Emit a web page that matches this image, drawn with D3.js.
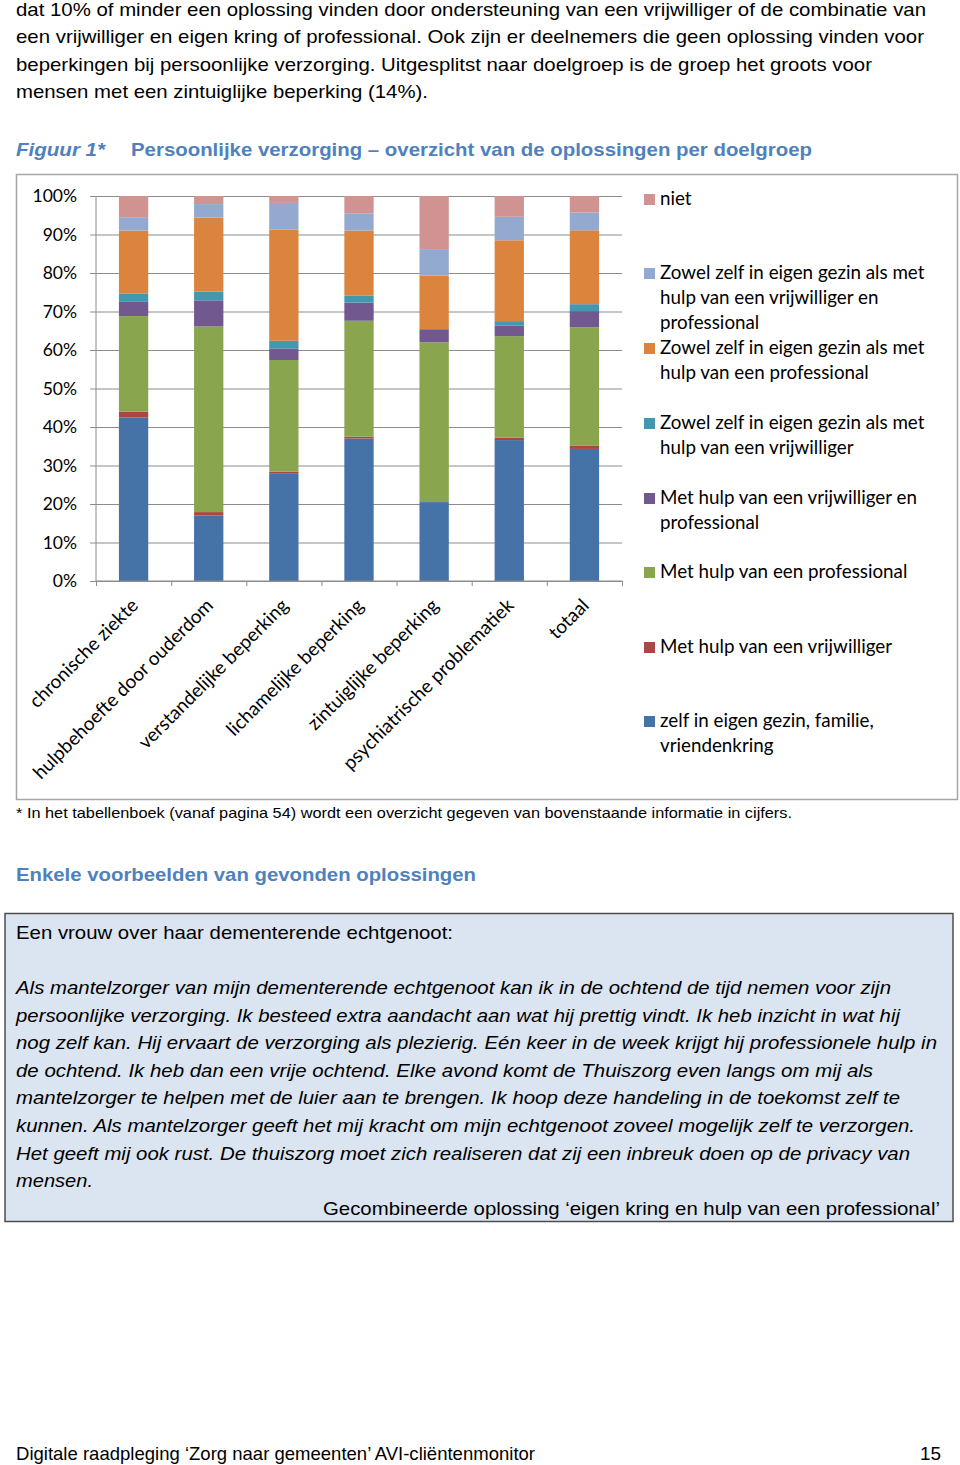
<!DOCTYPE html>
<html>
<head>
<meta charset="utf-8">
<script src="https://cdn.jsdelivr.net/npm/d3@7"></script>
<style>
  html, body { margin: 0; padding: 0; background: #fff; }
  svg { display: block; }
</style>
</head>
<body>
<svg id="page" width="960" height="1465"></svg>
<script>
// ---------- DATA ----------
const categories = ["chronische ziekte", "hulpbehoefte door ouderdom", "verstandelijke beperking",
  "lichamelijke beperking", "zintuiglijke beperking", "psychiatrische problematiek", "totaal"];

// series, bottom to top (percentages)
const zelf          = [42.5, 17.0, 28.0, 37.0, 20.5, 36.6, 34.3];
const vrijwilliger  = [ 1.5,  0.9,  0.4,  0.5,  0.0,  0.6,  0.8];
const professional  = [24.8, 48.2, 29.0, 30.1, 41.5, 26.4, 30.8];
const vrijwProf     = [ 3.7,  6.8,  3.0,  4.7,  3.4,  2.7,  4.2];
const zelfVrijw     = [ 2.2,  2.3,  2.0,  1.8,  0.0,  1.2,  1.8];
const zelfProf      = [16.3, 19.2, 28.9, 16.9, 13.9, 21.0, 19.2];
const zelfVrijwProf = [ 3.5,  3.5,  6.9,  4.5,  6.9,  6.1,  4.6];
const niet          = [ 5.5,  2.1,  1.8,  4.5, 13.8,  5.4,  4.3];

const seriesKeys = ["zelf", "vrijwilliger", "professional", "vrijwProf", "zelfVrijw", "zelfProf", "zelfVrijwProf", "niet"];
const seriesValues = [zelf, vrijwilliger, professional, vrijwProf, zelfVrijw, zelfProf, zelfVrijwProf, niet];
const seriesColors = ["#4572A7", "#AA4643", "#89A54E", "#71588F", "#4198AF", "#DB843D", "#93A9CF", "#D19392"];

const yTicks = [0, 10, 20, 30, 40, 50, 60, 70, 80, 90, 100];

// legend (top to bottom), lines per entry
const legendKeys = ["niet", "zelfVrijwProf", "zelfProf", "zelfVrijw", "vrijwProf", "professional", "vrijwilliger", "zelf"];
const legendLines = [
  ["niet"],
  ["Zowel zelf in eigen gezin als met", "hulp van een vrijwilliger en", "professional"],
  ["Zowel zelf in eigen gezin als met", "hulp van een professional"],
  ["Zowel zelf in eigen gezin als met", "hulp van een vrijwilliger"],
  ["Met hulp van een vrijwilliger en", "professional"],
  ["Met hulp van een professional"],
  ["Met hulp van een vrijwilliger"],
  ["zelf in eigen gezin, familie,", "vriendenkring"]
];
const legendTop = [199, 273, 348, 423, 498, 572, 647, 721];

// page texts
const introLines = [
  ["dat 10% of minder een oplossing vinden door ondersteuning van een vrijwilliger of de combinatie van", 910],
  ["een vrijwilliger en eigen kring of professional. Ook zijn er deelnemers die geen oplossing vinden voor", 908],
  ["beperkingen bij persoonlijke verzorging. Uitgesplitst naar doelgroep is de groep het groots voor", 856],
  ["mensen met een zintuiglijke beperking (14%).", 412]
];
const quoteLines = [
  ["Als mantelzorger van mijn dementerende echtgenoot kan ik in de ochtend de tijd nemen voor zijn", 875],
  ["persoonlijke verzorging. Ik besteed extra aandacht aan wat hij prettig vindt. Ik heb inzicht in wat hij", 884],
  ["nog zelf kan. Hij ervaart de verzorging als plezierig. Eén keer in de week krijgt hij professionele hulp in", 921],
  ["de ochtend. Ik heb dan een vrije ochtend. Elke avond komt de Thuiszorg even langs om mij als", 857],
  ["mantelzorger te helpen met de luier aan te brengen. Ik hoop deze handeling in de toekomst zelf te", 884],
  ["kunnen. Als mantelzorger geeft het mij kracht om mijn echtgenoot zoveel mogelijk zelf te verzorgen.", 899],
  ["Het geeft mij ook rust. De thuiszorg moet zich realiseren dat zij een inbreuk doen op de privacy van", 894],
  ["mensen.", 77]
];

// ---------- DRAW ----------
const svg = d3.select("#page");
const SANS = "'Liberation Sans', Arial, sans-serif";
const CHART = "Lato, Carlito, Calibri, sans-serif";
const BLUE = "#4F81BD";

function line(g, txt, x, y, len, opts = {}) {
  const t = g.append("text").attr("x", x).attr("y", y).text(txt)
    .attr("font-family", opts.family || SANS)
    .attr("font-size", opts.size || 19)
    .attr("fill", opts.fill || "#000");
  if (opts.weight) t.attr("font-weight", opts.weight);
  if (opts.style) t.attr("font-style", opts.style);
  if (opts.anchor) t.attr("text-anchor", opts.anchor);
  if (len) t.attr("textLength", len).attr("lengthAdjust", "spacingAndGlyphs");
  return t;
}

// intro paragraph
introLines.forEach((d, i) => line(svg, d[0], 16, 16 + i * 27.4, d[1]));

// figure title
line(svg, "Figuur 1*", 16, 156, 89, { fill: BLUE, weight: "bold", style: "italic" });
line(svg, "Persoonlijke verzorging – overzicht van de oplossingen per doelgroep", 131, 156, 681, { fill: BLUE, weight: "bold" });

// chart frame
svg.append("rect").attr("x", 16.5).attr("y", 174.5).attr("width", 941).attr("height", 625)
  .attr("fill", "#fff").attr("stroke", "#a6a6a6").attr("stroke-width", 1.5);

const plot = { left: 96, right: 622, top: 196, bottom: 581 };
const x = d3.scaleBand().domain(categories).range([plot.left, plot.right]).paddingInner(0.61).paddingOuter(0.305);
const y = d3.scaleLinear().domain([0, 100]).range([plot.bottom, plot.top]);

// gridlines
svg.append("g").attr("transform", `translate(${plot.left},0)`)
  .call(d3.axisLeft(y).tickValues(yTicks).tickSize(-(plot.right - plot.left)).tickFormat(""))
  .call(g => g.select(".domain").remove())
  .call(g => g.selectAll("line").attr("stroke", "#8c8c8c").attr("stroke-width", 1));

// stacked data
const table = categories.map((c, i) => {
  const row = { cat: c };
  seriesKeys.forEach((k, j) => row[k] = seriesValues[j][i]);
  return row;
});
const stack = d3.stack().keys(seriesKeys)(table);
const color = d3.scaleOrdinal().domain(seriesKeys).range(seriesColors);

svg.append("g").selectAll("g").data(stack).join("g")
  .attr("fill", d => color(d.key))
  .selectAll("rect").data(d => d).join("rect")
  .attr("x", d => x(d.data.cat))
  .attr("width", x.bandwidth())
  .attr("y", d => y(d[1]))
  .attr("height", d => y(d[0]) - y(d[1]));

// y axis
svg.append("g").attr("transform", `translate(${plot.left},0)`)
  .call(d3.axisLeft(y).tickValues(yTicks).tickSize(6).tickPadding(13).tickFormat(d => d + "%"))
  .call(g => g.select(".domain").attr("stroke", "#8c8c8c").attr("d", `M0,${plot.bottom}V${plot.top}`))
  .call(g => g.selectAll("line").attr("stroke", "#8c8c8c"))
  .call(g => g.selectAll("text").attr("font-family", CHART).attr("font-size", 17.5).attr("fill", "#000"));

// x axis (ticks between categories)
const xb = d3.scaleLinear().domain([0, categories.length]).range([plot.left, plot.right]);
svg.append("g").attr("transform", `translate(0,${plot.bottom})`)
  .call(d3.axisBottom(xb).tickValues(d3.range(0, categories.length + 1)).tickSize(5).tickFormat(""))
  .call(g => g.select(".domain").attr("stroke", "#8c8c8c").attr("d", `M${plot.left},0H${plot.right}`))
  .call(g => g.selectAll("line").attr("stroke", "#8c8c8c"));

svg.append("g").selectAll("text").data(categories).join("text")
  .attr("transform", d => `translate(${x(d) + x.bandwidth() / 2 + 1},${plot.bottom + 21}) rotate(-45)`)
  .attr("text-anchor", "end")
  .attr("dy", "0.35em")
  .attr("font-family", CHART).attr("font-size", 19)
  .text(d => d);

// legend
const lg = svg.append("g");
legendKeys.forEach((k, i) => {
  const top = legendTop[i];
  lg.append("rect").attr("x", 644).attr("y", top - 5).attr("width", 11).attr("height", 11).attr("fill", color(k));
  legendLines[i].forEach((t, j) => {
    lg.append("text").attr("x", 660).attr("y", top + 6 + j * 25)
      .attr("font-family", CHART).attr("font-size", 18.8).text(t);
  });
});

// footnote
line(svg, "* In het tabellenboek (vanaf pagina 54) wordt een overzicht gegeven van bovenstaande informatie in cijfers.", 16, 818, 776, { size: 15 });

// section heading
line(svg, "Enkele voorbeelden van gevonden oplossingen", 16, 881, 460, { fill: BLUE, weight: "bold" });

// quote box
svg.append("rect").attr("x", 5).attr("y", 913.5).attr("width", 948).attr("height", 308)
  .attr("fill", "#DBE5F1").attr("stroke", "#4d4d4d").attr("stroke-width", 1.5);
line(svg, "Een vrouw over haar dementerende echtgenoot:", 16, 939, 437);
quoteLines.forEach((d, i) => line(svg, d[0], 16, 994 + i * 27.6, d[1], { style: "italic" }));
line(svg, "Gecombineerde oplossing ‘eigen kring en hulp van een professional’", 323, 1215, 617);

// footer
line(svg, "Digitale raadpleging ‘Zorg naar gemeenten’ AVI-cliëntenmonitor", 16, 1460, 519);
line(svg, "15", 941, 1460, 21, { anchor: "end" });
</script>
</body>
</html>
